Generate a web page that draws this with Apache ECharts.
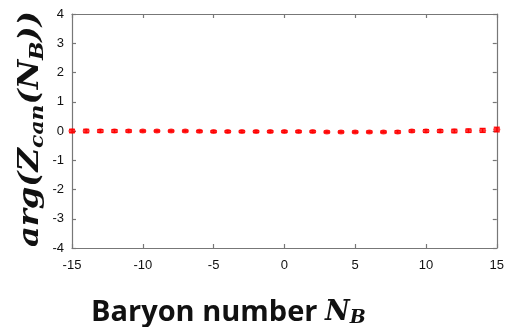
<!DOCTYPE html>
<html>
<head>
<meta charset="utf-8">
<script src="https://cdn.jsdelivr.net/npm/echarts@6/dist/echarts.min.js"></script>
<style>
  html, body { margin: 0; padding: 0; background: #fff; }
  #chart { width: 507px; height: 327px; }
</style>
</head>
<body>
<div id="chart"></div>
<script>
// Baryon number N_B
const baryonNumbers = [-15, -14, -13, -12, -11, -10, -9, -8, -7, -6, -5, -4, -3, -2, -1, 0,
  1, 2, 3, 4, 5, 6, 7, 8, 9, 10, 11, 12, 13, 14, 15];
// phase of the canonical partition function
const argValues = [0.0, 0.0, 0.0, 0.0, 0.0, 0.0, 0.0, 0.0, 0.0, -0.01, -0.02, -0.02, -0.02, -0.02, -0.02, -0.02,
  -0.02, -0.02, -0.03, -0.03, -0.03, -0.03, -0.03, -0.03, 0.0, 0.0, 0.0, 0.0, 0.01, 0.02, 0.05];
// statistical errors
const argErrors = [0.06, 0.06, 0.05, 0.05, 0.04, 0.03, 0.03, 0.03, 0.03, 0.03, 0.03, 0.03, 0.03, 0.03, 0.03, 0.03,
  0.03, 0.03, 0.03, 0.03, 0.03, 0.03, 0.03, 0.04, 0.04, 0.05, 0.05, 0.06, 0.06, 0.07, 0.08];
const xTicks = [-15, -10, -5, 0, 5, 10, 15];
const yTicks = [-4, -3, -2, -1, 0, 1, 2, 3, 4];

const points = baryonNumbers.map((n, i) => [n, argValues[i]]);
const bars = baryonNumbers.map((n, i) => [n, argValues[i] - argErrors[i], argValues[i] + argErrors[i]]);

const frame = { show: true, onZero: false, lineStyle: { color: '#777', width: 1.2 } };
const ticksIn = { show: true, inside: true, length: 4, lineStyle: { color: '#777', width: 1.2 } };
const labelFont = { fontFamily: 'Liberation Sans, Arial, sans-serif', fontSize: 13, color: '#111' };

const chart = echarts.init(document.getElementById('chart'), null, { renderer: 'canvas' });
chart.setOption({
  animation: false,
  backgroundColor: '#fff',
  grid: { left: 72, right: 10, top: 14, bottom: 79 },
  xAxis: [
    {
      type: 'value', min: xTicks[0], max: xTicks[xTicks.length - 1], interval: 5,
      position: 'bottom', axisLine: frame, axisTick: ticksIn, splitLine: { show: false },
      axisLabel: Object.assign({ margin: 11 }, labelFont)
    },
    {
      type: 'value', min: xTicks[0], max: xTicks[xTicks.length - 1], interval: 5,
      position: 'top', axisLine: frame, axisTick: ticksIn, splitLine: { show: false },
      axisLabel: { show: false }
    }
  ],
  yAxis: [
    {
      type: 'value', min: yTicks[0], max: yTicks[yTicks.length - 1], interval: 1,
      position: 'left', axisLine: frame, axisTick: ticksIn, splitLine: { show: false },
      axisLabel: Object.assign({ margin: 8 }, labelFont)
    },
    {
      type: 'value', min: yTicks[0], max: yTicks[yTicks.length - 1], interval: 1,
      position: 'right', axisLine: frame, axisTick: ticksIn, splitLine: { show: false },
      axisLabel: { show: false }
    }
  ],
  graphic: [
    {
      type: 'text', left: 91, top: 298,
      style: {
        rich: {
          w: { fontFamily: 'Open Sans', fontWeight: 'bold', fontSize: 29, fill: '#111' },
          n: { fontFamily: 'DejaVu Serif', fontStyle: 'italic', fontWeight: 'bold', fontSize: 27, fill: '#111' },
          s: { fontFamily: 'DejaVu Serif', fontStyle: 'italic', fontWeight: 'bold', fontSize: 19, fill: '#111', verticalAlign: 'bottom', padding: [12, 0, 0, 0] }
        },
        text: '{w|Baryon number }{n|N}{s|B}'
      }
    },
    {
      type: 'text', x: 14, y: 247, rotation: Math.PI / 2, scaleX: 1.15,
      style: {
        rich: {
          m: { fontFamily: 'DejaVu Serif', fontStyle: 'italic', fontWeight: 'bold', fontSize: 28, fill: '#111' },
          s: { fontFamily: 'DejaVu Serif', fontStyle: 'italic', fontWeight: 'bold', fontSize: 19, fill: '#111', padding: [15, 0, 0, 0] }
        },
        text: '{m|arg(Z}{s|can}{m|(N}{s|B}{m|))}'
      }
    }
  ],
  series: [
    {
      type: 'custom',
      xAxisIndex: 0, yAxisIndex: 0,
      data: bars,
      renderItem: function (params, api) {
        const x = api.value(0);
        const lo = api.coord([x, api.value(1)]);
        const hi = api.coord([x, api.value(2)]);
        const cap = 3;
        const st = { stroke: '#ff0000', lineWidth: 1.2 };
        return {
          type: 'group',
          children: [
            { type: 'line', shape: { x1: lo[0], y1: lo[1], x2: hi[0], y2: hi[1] }, style: st },
            { type: 'line', shape: { x1: lo[0] - cap, y1: lo[1], x2: lo[0] + cap, y2: lo[1] }, style: st },
            { type: 'line', shape: { x1: hi[0] - cap, y1: hi[1], x2: hi[0] + cap, y2: hi[1] }, style: st }
          ]
        };
      },
      z: 3
    },
    {
      type: 'scatter',
      xAxisIndex: 0, yAxisIndex: 0,
      data: points,
      symbol: 'circle',
      symbolSize: [7, 5],
      itemStyle: { color: '#ff0000' },
      z: 4
    }
  ]
});
</script>
</body>
</html>
